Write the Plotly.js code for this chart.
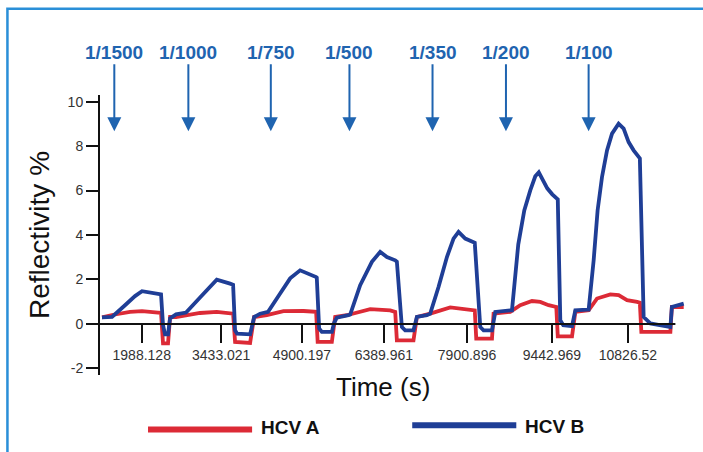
<!DOCTYPE html>
<html>
<head>
<meta charset="utf-8">
<script src="https://cdn.plot.ly/plotly-3.0.1.min.js"></script>
<style>
html,body{margin:0;padding:0;background:#fff;}
#chart{width:703px;height:452px;}
</style>
</head>
<body>
<div id="chart"></div>
<script>
// HCV B (blue) trace: time (s) and reflectivity (%)
const timeB = [1266,1448,1684,1866,1993,2139,2284,2339,2375,2412,2466,2503,2612,2794,
  3048,3352,3594,3649,3685,3721,3958,3994,4031,4140,4285,
  4504,4686,4867,5109,5158,5170,5213,5262,5444,5486,5535,5746,5777,
  5959,6172,6323,6445,6596,6626,6717,6777,6928,6990,7172,7232,
  7383,7536,7656,7747,7869,7991,8042,8142,8202,8355,8415,8687,
  8718,8833,8942,9051,9142,9206,9269,9360,9451,9524,9551,9597,9651,9810,9870,10083,
  10112,10203,10275,10355,10446,10537,10657,10748,10839,10930,11021,11043,11112,11234,11598,11625,11840];
const hcvB = [0.29,0.31,0.84,1.25,1.47,1.42,1.38,1.33,-0.06,-0.47,-0.47,0.25,0.43,0.51,
  1.19,1.99,1.81,1.76,-0.29,-0.44,-0.47,-0.06,0.31,0.46,0.54,
  1.37,2.05,2.41,2.19,2.11,2.08,-0.21,-0.36,-0.36,0.05,0.28,0.39,0.42,
  1.74,2.79,3.24,3.01,2.86,2.80,-0.14,-0.29,-0.29,0.31,0.39,0.46,
  1.66,3.01,3.84,4.14,3.84,3.69,3.65,-0.14,-0.29,-0.29,0.54,0.61,
  0.61,3.58,5.11,6.01,6.64,6.82,6.55,6.10,5.83,5.65,5.60,0.16,-0.06,-0.10,0.61,0.64,
  0.64,2.86,5.11,6.61,7.81,8.56,9.01,8.79,8.18,7.81,7.54,7.45,0.31,0.02,-0.14,0.76,0.91];

// HCV A (red) trace
const timeA = [1266,1448,1775,1993,2284,2339,2375,2466,2503,2612,
  3048,3352,3649,3685,3958,4031,
  4262,4564,4930,5158,5186,5444,5504,5716,
  6141,6505,6596,6626,6928,6990,
  7232,7596,8042,8069,8355,8384,8687,
  8869,9082,9233,9384,9524,9551,9810,9870,
  10112,10264,10506,10657,10810,10992,11043,11070,11598,11625,11840];
const hcvA = [0.29,0.40,0.54,0.57,0.51,0.50,-0.88,-0.88,0.31,0.31,
  0.49,0.54,0.46,-0.81,-0.86,0.31,
  0.39,0.57,0.58,0.54,-0.81,-0.81,0.31,0.39,
  0.66,0.61,0.54,-0.74,-0.74,0.31,
  0.46,0.74,0.61,-0.66,-0.66,0.46,0.54,
  0.84,1.03,0.99,0.84,0.76,-0.56,-0.56,0.54,
  0.61,1.14,1.33,1.29,1.07,0.99,0.95,-0.36,-0.36,0.76,0.76];

// Injection arrows (dilutions)
const arrowTimes = [1489.5,2835.6,4334.5,5764.2,7274.2,8609.1,10111.6];
const arrowLabels = ['1/1500','1/1000','1/750','1/500','1/350','1/200','1/100'];

// Axis ticks
const xTickVals = [1988.128,3433.021,4900.197,6389.961,7900.896,9442.969,10826.52];
const xTickText = ['1988.128','3433.021','4900.197','6389.961','7900.896','9442.969','10826.52'];
const yTickVals = [-2,0,2,4,6,8,10];
const yTickText = ['-2','0','2','4','6','8','10'];

const seriesNames = ['HCV A','HCV B'];
const xTitle = 'Time (s)';
const yTitle = 'Reflectivity %';
const RED = '#dc2a36';
const BLUE = '#1f3e96';
const ARROW = '#1f64b0';
const FONT = '"Liberation Sans", Arial, Helvetica, sans-serif';

const traces = [
  {x: timeA, y: hcvA, type: 'scatter', mode: 'lines', name: seriesNames[0],
   line: {color: RED, width: 3.8}, showlegend: false},
  {x: timeB, y: hcvB, type: 'scatter', mode: 'lines', name: seriesNames[1],
   line: {color: BLUE, width: 3.8}, showlegend: false}
];

const annotations = arrowTimes.map((t, i) => ({
  x: t, xref: 'x', y: 0.8704, yref: 'paper',
  text: '<b>' + arrowLabels[i] + '</b>',
  showarrow: true, ax: 0, ay: -79,
  arrowhead: 2, arrowsize: 1.4, arrowwidth: 2, arrowcolor: ARROW,
  standoff: 0, startstandoff: 0,
  font: {family: FONT, size: 19, color: ARROW}
}));

annotations.push(
  // x axis title
  {x: 0.4824, y: -0.0439, xref: 'paper', yref: 'paper', xanchor: 'center', yanchor: 'middle',
   text: xTitle, showarrow: false,
   font: {family: FONT, size: 26, color: '#111'}},
  // legend texts
  {x: 0.2712, y: -0.1868, xref: 'paper', yref: 'paper', xanchor: 'left', yanchor: 'middle',
   text: '<b>' + seriesNames[0] + '</b>', showarrow: false,
   font: {family: FONT, size: 19, color: '#111'}},
  {x: 0.7212, y: -0.1832, xref: 'paper', yref: 'paper', xanchor: 'left', yanchor: 'middle',
   text: '<b>' + seriesNames[1] + '</b>', showarrow: false,
   font: {family: FONT, size: 19, color: '#111'}}
);

const shapes = [
  // frame
  {type: 'path', xref: 'paper', yref: 'paper',
   path: 'M -0.1577,-0.3046 L -0.1577,1.3079 L 1.04,1.3079',
   line: {color: '#2a8fd8', width: 2.5}, layer: 'above'},
  // zero line (x axis line)
  {type: 'line', xref: 'x', yref: 'y', x0: 1229.4, x1: 11689, y0: 0, y1: 0,
   line: {color: '#111', width: 2}, layer: 'above'},
  // legend lines
  {type: 'line', xref: 'paper', yref: 'paper', x0: 0.0818, x1: 0.2591, y0: -0.195, y1: -0.195,
   line: {color: RED, width: 6}},
  {type: 'line', xref: 'paper', yref: 'paper', x0: 0.5319, x1: 0.7092, y0: -0.1796, y1: -0.1796,
   line: {color: BLUE, width: 6}}
];

const layout = {
  width: 703, height: 452,
  margin: {l: 100, r: 16.4, t: 94.7, b: 77.3, pad: 0},
  paper_bgcolor: '#ffffff', plot_bgcolor: '#ffffff',
  font: {family: FONT, color: '#222'},
  showlegend: false,
  xaxis: {
    range: [1229.4, 11900], anchor: 'free', position: 0.1825,
    showline: false, showgrid: false, zeroline: false,
    tickmode: 'array', tickvals: xTickVals, ticktext: xTickText,
    ticks: 'outside', ticklen: 18, tickwidth: 2, tickcolor: '#111',
    tickfont: {family: FONT, size: 14, color: '#333'}
  },
  yaxis: {
    range: [-2.3, 10.3],
    showline: true, linecolor: '#111', linewidth: 2,
    showgrid: false, zeroline: false,
    tickmode: 'array', tickvals: yTickVals, ticktext: yTickText,
    ticks: 'outside', ticklen: 12, tickwidth: 2, tickcolor: '#111',
    tickfont: {family: FONT, size: 14, color: '#333'},
    title: {text: yTitle, font: {family: FONT, size: 28, color: '#111'}, standoff: 10}
  },
  annotations: annotations,
  shapes: shapes
};

Plotly.newPlot('chart', traces, layout, {staticPlot: true, displayModeBar: false});
</script>
</body>
</html>
